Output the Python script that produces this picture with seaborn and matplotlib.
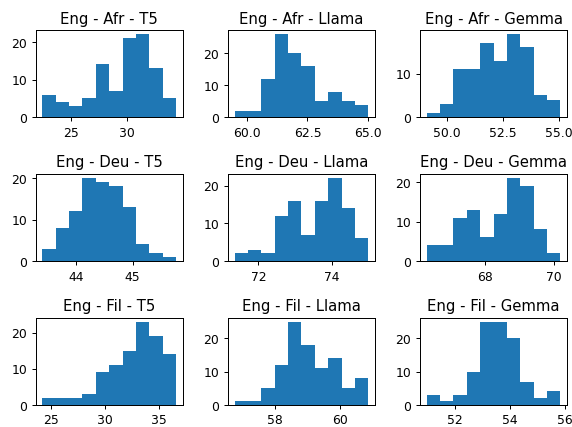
import matplotlib
matplotlib.use("Agg")
import matplotlib.pyplot as plt
import numpy as np
import seaborn as sns

titles = [
	"Eng - Afr - T5", "Eng - Afr - Llama", "Eng - Afr - Gemma",
	"Eng - Deu - T5", "Eng - Deu - Llama", "Eng - Deu - Gemma",
	"Eng - Fil - T5", "Eng - Fil - Llama", "Eng - Fil - Gemma",
]

# range of the scores (lowest, highest) for each panel
score_min = [22.46, 59.50, 49.10, 43.40, 71.35, 66.30, 24.22, 56.75, 50.96]
score_max = [34.34, 65.00, 55.06, 45.77, 74.99, 70.20, 36.55, 60.86, 55.84]

# counts in each of the 10 bins
counts = [
	[6, 4, 3, 5, 14, 7, 21, 22, 13, 5],
	[2, 2, 12, 26, 20, 16, 5, 8, 5, 4],
	[1, 3, 11, 11, 17, 13, 19, 16, 5, 4],
	[3, 8, 12, 20, 19, 18, 13, 4, 2, 1],
	[2, 3, 2, 12, 16, 7, 16, 22, 14, 6],
	[4, 4, 11, 13, 6, 12, 21, 19, 8, 2],
	[2, 2, 2, 3, 9, 11, 15, 23, 19, 14],
	[1, 1, 5, 12, 25, 18, 11, 14, 5, 8],
	[3, 1, 3, 10, 25, 25, 20, 7, 2, 4],
]

n_bins = 10

fig, axes = plt.subplots(3, 3, figsize=(6.4, 4.78), dpi=89.5)

for i, ax in enumerate(axes.flat):
	lo, hi = score_min[i], score_max[i]
	edges = np.linspace(lo, hi, n_bins + 1)
	centers = (edges[:-1] + edges[1:]) / 2
	sns.histplot(x=centers, weights=counts[i], bins=n_bins, binrange=(lo, hi),
			color="#1f77b4", alpha=1, linewidth=0, ax=ax)
	ax.set_title(titles[i])
	ax.set_xlabel("")
	ax.set_ylabel("")

fig.subplots_adjust(left=0.0623, right=0.990, bottom=0.052, top=0.9276,
		wspace=0.306, hspace=0.65)
plt.savefig("out.png")
